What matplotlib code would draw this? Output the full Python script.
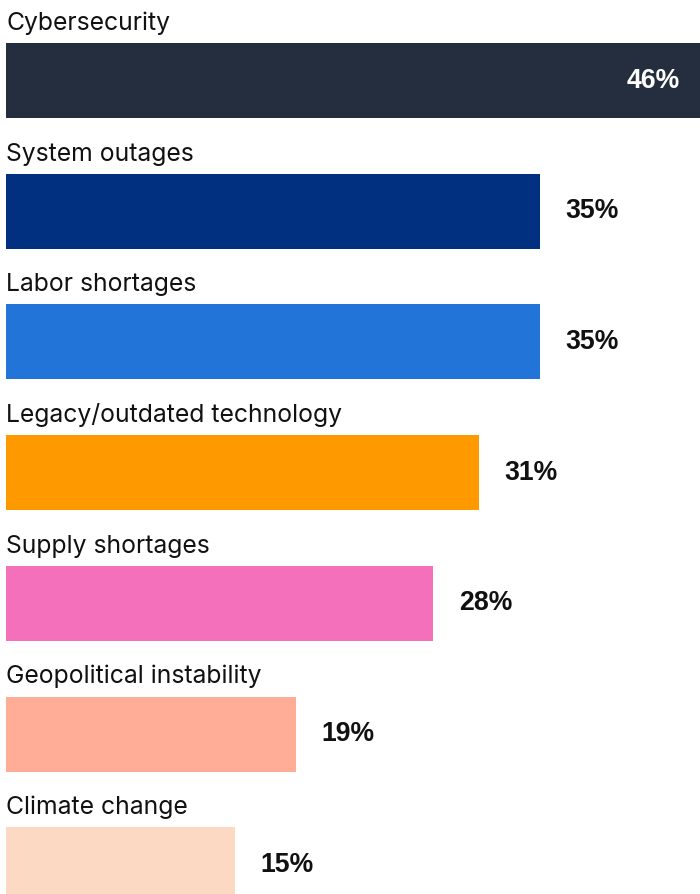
import matplotlib.pyplot as plt
from matplotlib.transforms import blended_transform_factory

categories = ['Cybersecurity', 'System outages', 'Labor shortages',
              'Legacy/outdated technology', 'Supply shortages',
              'Geopolitical instability', 'Climate change']
values = [46, 35, 35, 31, 28, 19, 15]
colors = ['#242e3f', '#00307f', '#2274d9', '#ff9900', '#f470bb', '#ffad97', '#fbd9c2']

W, H = 700, 894
px_per_pct = 15.26
row = 130.7
first_center = 80.5
bar_h = 75 / row

fig = plt.figure(figsize=(W / 100, H / 100), dpi=100)
ax = fig.add_axes([0, 0, 1, 1])
ax.set_xlim(-6 / px_per_pct, (W - 6) / px_per_pct)
ax.set_ylim((H - first_center) / row, -first_center / row)
ax.axis('off')

ypos = list(range(len(categories)))
ax.barh(ypos, values, height=bar_h, color=colors, left=0)

for i, (cat, v) in enumerate(zip(categories, values)):
    ax.annotate(cat, xy=(0, i - bar_h / 2), xytext=(0, 9.4), textcoords='offset points',
                ha='left', va='baseline', fontsize=17.8, family='Inter', color='#111111')
    if v == max(values):
        tr = blended_transform_factory(ax.transAxes, ax.transData)
        ax.annotate(f'{v}%', xy=(1, i), xycoords=tr, xytext=(-14.5, 0), textcoords='offset points',
                    ha='right', va='center', fontsize=19.2, fontweight='bold',
                    family='Liberation Sans', color='white')
    else:
        ax.annotate(f'{v}%', xy=(v, i), xytext=(18.5, 0), textcoords='offset points',
                    ha='left', va='center', fontsize=19.2, fontweight='bold',
                    family='Liberation Sans', color='#111111')

fig.savefig('out.png', dpi=100, facecolor='white')
